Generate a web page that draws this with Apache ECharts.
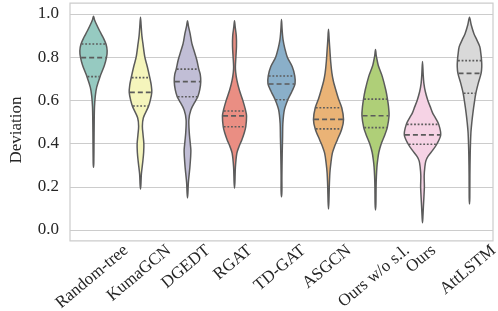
<!DOCTYPE html>
<html>
<head>
<meta charset="utf-8">
<script src="https://cdn.jsdelivr.net/npm/echarts@6/dist/echarts.min.js"></script>
<style>
html,body{margin:0;padding:0;background:#fff;}
#chart{width:498px;height:311px;}
</style>
</head>
<body>
<div id="chart"></div>
<script>
// ---- data ----
const categories = ['Random-tree','KumaGCN','DGEDT','RGAT','TD-GAT','ASGCN','Ours w/o s.l.','Ours','AttLSTM'];
const q1Values     = [0.710, 0.574, 0.617, 0.478, 0.603, 0.468, 0.474, 0.397, 0.633];
const medianValues = [0.798, 0.637, 0.687, 0.528, 0.676, 0.512, 0.529, 0.440, 0.725];
const q3Values     = [0.861, 0.705, 0.745, 0.551, 0.713, 0.566, 0.606, 0.489, 0.784];
const yTickValues  = [0.0, 0.2, 0.4, 0.6, 0.8, 1.0];
const yLimits      = [-0.05, 1.05];

// density profiles: [value, relative density]
const randomTree = [[0.29,0],[0.31,0.9],[0.40,1.1],[0.50,1.3],[0.57,1.6],[0.62,2.4],[0.66,3.8],[0.71,7.2],[0.76,11.5],[0.80,13.8],[0.83,14.4],[0.86,13.3],[0.89,10.5],[0.92,7],[0.95,3.8],[0.975,1.5],[0.99,0]];
const kumaGCN = [[0.19,0],[0.21,1],[0.26,1.5],[0.32,3],[0.36,3.8],[0.40,4],[0.44,3.2],[0.48,2.5],[0.52,3.5],[0.57,8.5],[0.60,10.5],[0.637,12],[0.67,11.5],[0.705,10],[0.756,7.5],[0.80,5],[0.865,3],[0.90,2],[0.95,1.2],[0.985,0]];
const dgedt = [[0.148,0],[0.17,1],[0.22,1.5],[0.29,3],[0.34,3.8],[0.37,4],[0.41,3.2],[0.45,2.4],[0.51,2],[0.556,4],[0.60,9],[0.617,11],[0.65,13],[0.687,14],[0.72,13.5],[0.745,12],[0.787,10],[0.833,7],[0.864,5],[0.91,3.2],[0.945,1.5],[0.969,0]];
const rgat = [[0.194,0],[0.22,1],[0.29,1.5],[0.356,3],[0.39,5.5],[0.417,8],[0.45,10.5],[0.478,12],[0.528,12.8],[0.556,11.7],[0.60,9],[0.648,5.5],[0.694,3],[0.73,1.8],[0.756,1.5],[0.80,2],[0.85,2.6],[0.90,2.4],[0.94,1.3],[0.969,0]];
const tdGat = [[0.154,0],[0.18,1],[0.25,1],[0.35,1.3],[0.43,1.7],[0.495,2],[0.556,3.5],[0.603,7],[0.64,11],[0.676,14.3],[0.713,14],[0.756,11.5],[0.80,6.5],[0.84,4],[0.88,2.2],[0.93,1.2],[0.975,0]];
const asgcn = [[0.097,0],[0.13,1],[0.20,1.4],[0.264,2],[0.31,3],[0.356,4.5],[0.39,7],[0.417,9.5],[0.468,14],[0.512,15.8],[0.566,14],[0.61,10.5],[0.648,8],[0.69,5.5],[0.727,4],[0.78,2.8],[0.833,2],[0.88,1.3],[0.929,0]];
const oursWoSl = [[0.093,0],[0.12,1],[0.20,1.2],[0.247,1.5],[0.29,2],[0.324,2.8],[0.36,4],[0.40,6.5],[0.44,10],[0.474,12.5],[0.529,14.3],[0.57,13.8],[0.606,12.7],[0.648,11],[0.71,7.5],[0.76,3.5],[0.787,2.2],[0.81,1.3],[0.836,0]];
const ours = [[0.034,0],[0.06,1],[0.108,1.5],[0.15,2],[0.20,2.5],[0.25,2.3],[0.293,3],[0.32,4],[0.34,6],[0.37,11],[0.397,15],[0.44,19],[0.489,17],[0.52,13.5],[0.54,11],[0.57,8.5],[0.60,6],[0.64,3.5],[0.679,2],[0.72,1.3],[0.78,0]];
const attLSTM = [[0.12,0],[0.15,0.9],[0.25,1],[0.35,1.3],[0.448,2],[0.50,3],[0.54,4],[0.59,5.5],[0.633,7],[0.68,9.5],[0.725,12.3],[0.756,13],[0.784,12.8],[0.82,12],[0.849,11],[0.88,8],[0.91,5],[0.95,2.3],[0.985,0]];
const profiles = [randomTree, kumaGCN, dgedt, rgat, tdGat, asgcn, oursWoSl, ours, attLSTM];

// ---- styles ----
const fillColors = ['#96cac1','#f5f5bc','#c1bed6','#ea8e83','#8aafc9','#eab376','#afcf78','#f6d3e5','#d9d9d9'];
const outlineColor = '#5b5b5b';
const textColor = '#262626';
const fontFamily = '"Liberation Serif", "Times New Roman", serif';
const fontSize = 17;
const labelAngle = 40;

let maxDensity = 0;
profiles.forEach(p => p.forEach(d => { if (d[1] > maxDensity) maxDensity = d[1]; }));

function densityAt(prof, v) {
  for (let j = 0; j < prof.length - 1; j++) {
    const a = prof[j], b = prof[j + 1];
    if (v >= a[0] && v <= b[0]) {
      const t = (v - a[0]) / (b[0] - a[0]);
      return a[1] + t * (b[1] - a[1]);
    }
  }
  return 0;
}

const measureCtx = document.createElement('canvas').getContext('2d');
measureCtx.font = fontSize + 'px ' + fontFamily;

const chart = echarts.init(document.getElementById('chart'), null, {renderer: 'canvas'});

const option = {
  animation: false,
  backgroundColor: '#ffffff',
  grid: {left: 61, right: 5, top: 14, bottom: 81, containLabel: false},
  xAxis: {
    type: 'category',
    data: categories,
    boundaryGap: true,
    axisLine: {show: false},
    axisTick: {show: false},
    axisLabel: {show: false},
    splitLine: {show: false}
  },
  yAxis: {
    type: 'value',
    min: yTickValues[0],
    max: yTickValues[yTickValues.length - 1],
    interval: 0.2,
    name: 'Deviation',
    nameLocation: 'middle',
    nameGap: 45,
    nameRotate: 90,
    nameTextStyle: {fontFamily: fontFamily, fontSize: fontSize, color: textColor, padding: [0, 16, 0, 0]},
    axisLine: {show: false},
    axisTick: {show: false},
    axisLabel: {
      fontFamily: fontFamily, fontSize: fontSize, color: textColor, margin: 11,
      formatter: v => v.toFixed(1)
    },
    splitLine: {show: true, lineStyle: {color: '#cccccc', width: 1.2}}
  },
  series: [
    {
      type: 'custom',
      clip: false,
      silent: true,
      z: 1,
      data: [[0]],
      renderItem: function (params, api) {
        const n = categories.length;
        const band = api.size([1, 0])[0];
        const left = api.coord([0, 0])[0] - band / 2;
        const right = api.coord([n - 1, 0])[0] + band / 2;
        const top = api.coord([0, yLimits[1]])[1];
        const bottom = api.coord([0, yLimits[0]])[1];
        return {
          type: 'rect',
          shape: {x: left, y: top, width: right - left, height: bottom - top},
          style: {fill: null, stroke: '#cccccc', lineWidth: 1.2}
        };
      }
    },
    {
      type: 'custom',
      clip: false,
      silent: true,
      z: 2,
      encode: {x: 0, y: [1, 2, 3]},
      data: categories.map((c, i) => [i, q1Values[i], medianValues[i], q3Values[i]]),
      renderItem: function (params, api) {
        const i = api.value(0);
        const prof = profiles[i];
        const cx = api.coord([i, 0])[0];
        const band = api.size([1, 0])[0];
        const k = band * 0.4 / maxDensity;
        const right = [], leftSide = [];
        prof.forEach(d => {
          const y = api.coord([i, d[0]])[1];
          const hw = Math.max(d[1] * k - 0.6, 0);
          right.push([cx + hw, y]);
          leftSide.push([cx - hw, y]);
        });
        const pts = right.concat(leftSide.reverse().slice(1, -1));
        const children = [{
          type: 'polygon',
          shape: {points: pts, smooth: 0.3},
          style: {fill: fillColors[i], stroke: outlineColor, lineWidth: 1.5}
        }];
        const qs = [[api.value(1), [1.8, 1.8]], [api.value(2), [5, 3]], [api.value(3), [1.8, 1.8]]];
        qs.forEach(q => {
          const y = api.coord([i, q[0]])[1];
          const hw = densityAt(prof, q[0]) * k - 1.2;
          children.push({
            type: 'line',
            shape: {x1: cx - hw, y1: y, x2: cx + hw, y2: y},
            style: {stroke: outlineColor, lineWidth: 1.7, lineDash: q[1]}
          });
        });
        // rotated category label, centred under its category (matplotlib ha=center style)
        const text = categories[i];
        const w = measureCtx.measureText(text).width;
        const th = labelAngle * Math.PI / 180;
        const h = fontSize * 1.0;
        const H = w * Math.sin(th) + h * Math.cos(th);
        const yTop = api.coord([i, yLimits[0]])[1] + 1;
        children.push({
          type: 'text',
          x: cx - 1.5,
          y: yTop + H / 2,
          rotation: th,
          style: {
            text: text,
            font: fontSize + 'px ' + fontFamily,
            fill: textColor,
            align: 'center',
            verticalAlign: 'middle'
          }
        });
        return {type: 'group', children: children};
      }
    }
  ]
};
chart.setOption(option);
</script>
</body>
</html>
